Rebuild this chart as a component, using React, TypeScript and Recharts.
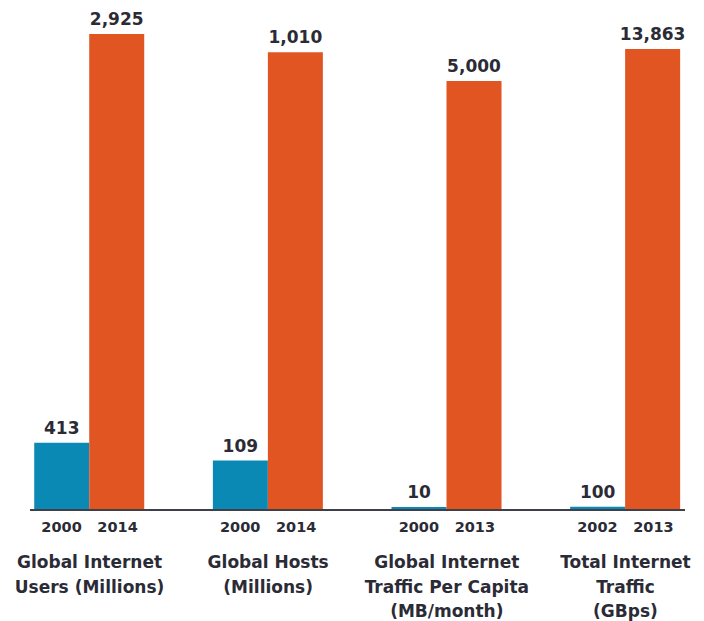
import React from "react";
import { BarChart, Bar, XAxis, YAxis } from "recharts";

// ---- data ----
const categoryLabels: string[][] = [
  ["Global Internet", "Users (Millions)"],
  ["Global Hosts", "(Millions)"],
  ["Global Internet", "Traffic Per Capita", "(MB/month)"],
  ["Total Internet", "Traffic", "(GBps)"],
];
const earlyYears = ["2000", "2000", "2000", "2002"];
const lateYears = ["2014", "2014", "2013", "2013"];
const earlyValues = [413, 109, 10, 100];
const lateValues = [2925, 1010, 5000, 13863];
// each group is drawn on its own scale: value that would reach the top of the plot
const groupScaleMax = [3072, 1103, 5828, 15036];

const BLUE = "#0a89b5";
const ORANGE = "#e05522";
const TEXT = "#2b2b36";
const AXIS = "#3f3f4c";
const FONT = "'DejaVu Sans', sans-serif";

const data = categoryLabels.map((_, i) => ({
  x: i,
  early: earlyValues[i] / groupScaleMax[i],
  late: lateValues[i] / groupScaleMax[i],
  earlyRaw: earlyValues[i],
  lateRaw: lateValues[i],
}));

const fmt = (v: number) => v.toLocaleString("en-US");

const makeLabel = (raw: number[]) => (props: any) => {
  const { x, y, width, index } = props;
  return (
    <text
      x={x + width / 2}
      y={y - 9}
      textAnchor="middle"
      fontFamily={FONT}
      fontWeight="bold"
      fontSize={17}
      fill={TEXT}
    >
      {fmt(raw[index])}
    </text>
  );
};

const CategoryTick = (props: any) => {
  const { x, y, payload } = props;
  const i = Math.round(payload.value);
  const lines = categoryLabels[i] || [];
  return (
    <g>
      <text x={x - 28} y={y + 21.5} textAnchor="middle" fontFamily={FONT} fontWeight="bold" fontSize={14.5} fill={TEXT}>
        {earlyYears[i]}
      </text>
      <text x={x + 28} y={y + 21.5} textAnchor="middle" fontFamily={FONT} fontWeight="bold" fontSize={14.5} fill={TEXT}>
        {lateYears[i]}
      </text>
      {lines.map((ln, k) => (
        <text
          key={k}
          x={x}
          y={y + 58.3 + k * 24.4}
          textAnchor="middle"
          fontFamily={FONT}
          fontWeight="bold"
          fontSize={17}
          fill={TEXT}
        >
          {ln}
        </text>
      ))}
    </g>
  );
};

export default function App() {
  return (
    <div style={{ position: "absolute", left: 0, top: 0, width: 704, height: 621, background: "#fff" }}>
      <BarChart
        width={704}
        height={621}
        data={data}
        margin={{ top: 10, right: 19, left: 30, bottom: 0 }}
        barGap={0}
        barSize={55}
      >
        <XAxis
          dataKey="x"
          type="number"
          domain={[-1 / 3, 10 / 3]}
          ticks={[0, 1, 2, 3]}
          tick={<CategoryTick />}
          tickLine={false}
          tickSize={0}
          tickMargin={0}
          height={111}
          axisLine={{ stroke: AXIS, strokeWidth: 2 }}
          interval={0}
        />
        <YAxis hide domain={[0, 1]} />
        <Bar dataKey="early" fill={BLUE} isAnimationActive={false} minPointSize={3} label={makeLabel(earlyValues)} />
        <Bar dataKey="late" fill={ORANGE} isAnimationActive={false} label={makeLabel(lateValues)} />
      </BarChart>
    </div>
  );
}
